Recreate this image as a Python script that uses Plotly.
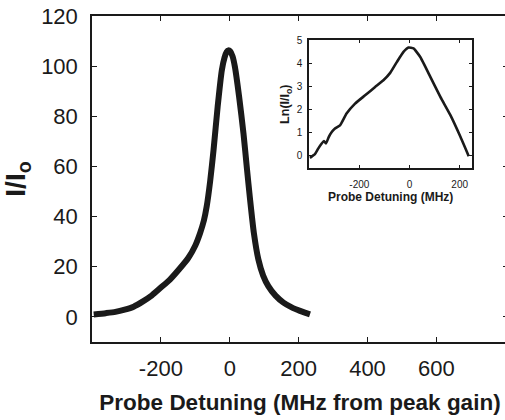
import plotly.graph_objects as go

# Main curve: I/Io vs probe detuning (MHz)
main_x = [-395, -360, -332, -305, -279, -252, -226, -200, -173, -147, -120, -100, -86, -75, -67, -57, -47, -35, -23, -15, -9, -4, 1, 8, 15, 27, 40, 50, 59, 70, 83, 97, 112, 133, 156, 180, 204, 220, 233]
main_y = [1.0, 1.5, 2.0, 2.9, 4.1, 6.2, 8.6, 11.7, 15.0, 19.0, 23.6, 28.5, 33.5, 38.5, 44.0, 54.0, 66.6, 84.0, 98.4, 103.5, 105.7, 106.3, 106.0, 104.0, 99.7, 88.0, 73.0, 59.0, 46.8, 33.5, 23.0, 16.5, 12.3, 8.5, 5.7, 3.8, 2.4, 1.6, 1.0]

# Inset curve: Ln(I/Io) vs probe detuning (MHz)
ins_x = [-397, -377, -364, -350, -341, -333, -322, -310, -297, -277, -251, -217, -177, -137, -104, -77, -50, -24, -4, 16, 43, 83, 123, 163, 203, 236]
ins_y = [-0.1, 0.06, 0.30, 0.52, 0.63, 0.52, 0.80, 1.02, 1.17, 1.31, 1.82, 2.25, 2.61, 2.97, 3.26, 3.58, 4.06, 4.49, 4.68, 4.64, 4.27, 3.41, 2.54, 1.75, 0.81, -0.03]

main_xticks = [-200, 0, 200, 400, 600]
main_xlabels = ["-200", "0", "200", "400", "600"]
main_yticks = [0, 20, 40, 60, 80, 100, 120]
ins_xticks = [-200, 0, 200]
ins_xlabels = ["-200", "0", "200"]
ins_yticks = [0, 1, 2, 3, 4, 5]

FONT = "Liberation Sans, Arial, sans-serif"
INK = "#1a1a1a"
NB = "\u00a0"

fig = go.Figure()
fig.add_trace(go.Scatter(x=main_x, y=main_y, mode="lines",
                         line=dict(color=INK, width=6, shape="spline", smoothing=0.6),
                         xaxis="x", yaxis="y", showlegend=False, hoverinfo="skip"))
fig.add_trace(go.Scatter(x=ins_x, y=ins_y, mode="lines",
                         line=dict(color=INK, width=2.6, shape="spline", smoothing=0.4),
                         xaxis="x2", yaxis="y2", showlegend=False, hoverinfo="skip"))

# plot area: x 92 -> 508 px (right border just outside the 505 px window), y 16 -> 342 px
fig.update_layout(
    width=508, height=420,
    margin=dict(l=92, r=0, t=16, b=78),
    paper_bgcolor="white", plot_bgcolor="white",
    font=dict(family=FONT, color=INK),
    xaxis=dict(range=[-400, 808], tickvals=main_xticks, ticktext=main_xlabels,
               ticks="inside", ticklen=5, automargin=False,
               tickcolor=INK, showline=True, linecolor=INK, linewidth=1.5, mirror="ticks",
               showgrid=False, zeroline=False, tickfont=dict(size=22, color=INK),
               ticklabelstandoff=6,
               title=dict(text="<b>Probe Detuning (MHz from peak gain)</b>",
                          font=dict(size=22.5, color=INK), standoff=14)),
    yaxis=dict(range=[-10, 120], tickvals=main_yticks, ticks="inside", ticklen=5,
               automargin=False, mirror="ticks",
               tickcolor=INK, showline=True, linecolor=INK, linewidth=1.5,
               showgrid=False, zeroline=False, tickfont=dict(size=22, color=INK),
               ticklabelstandoff=8,
               title=dict(text=NB * 3 + "<b>I/I<sub>o</sub></b>", font=dict(size=28, color=INK),
                          standoff=7)),
    xaxis2=dict(domain=[0.522, 0.914], anchor="y2", range=[-400, 250], tickvals=ins_xticks,
                ticktext=ins_xlabels, automargin=False,
                ticks="inside", ticklen=3, tickcolor=INK, showline=True, linecolor=INK,
                linewidth=1.5, mirror="ticks", showgrid=False, zeroline=False,
                tickfont=dict(size=10, color=INK), ticklabelstandoff=6,
                title=dict(text="<b>Probe Detuning (MHz)</b>", font=dict(size=12, color=INK), standoff=4)),
    yaxis2=dict(domain=[0.533, 0.926], anchor="x2", range=[-0.55, 5], tickvals=ins_yticks,
                automargin=False,
                ticks="inside", ticklen=3, tickcolor=INK, showline=True, linecolor=INK,
                linewidth=1.5, mirror="ticks", showgrid=False, zeroline=False,
                tickfont=dict(size=10, color=INK), ticklabelstandoff=3,
                title=dict(text=NB * 8 + "<b>Ln(I/I<sub>o</sub>)</b>", font=dict(size=12.5, color=INK),
                           standoff=4)),
)

fig.write_html("out.html", config={"displayModeBar": False},
               post_script="document.body.style.margin='0px';document.body.style.overflow='hidden';")
